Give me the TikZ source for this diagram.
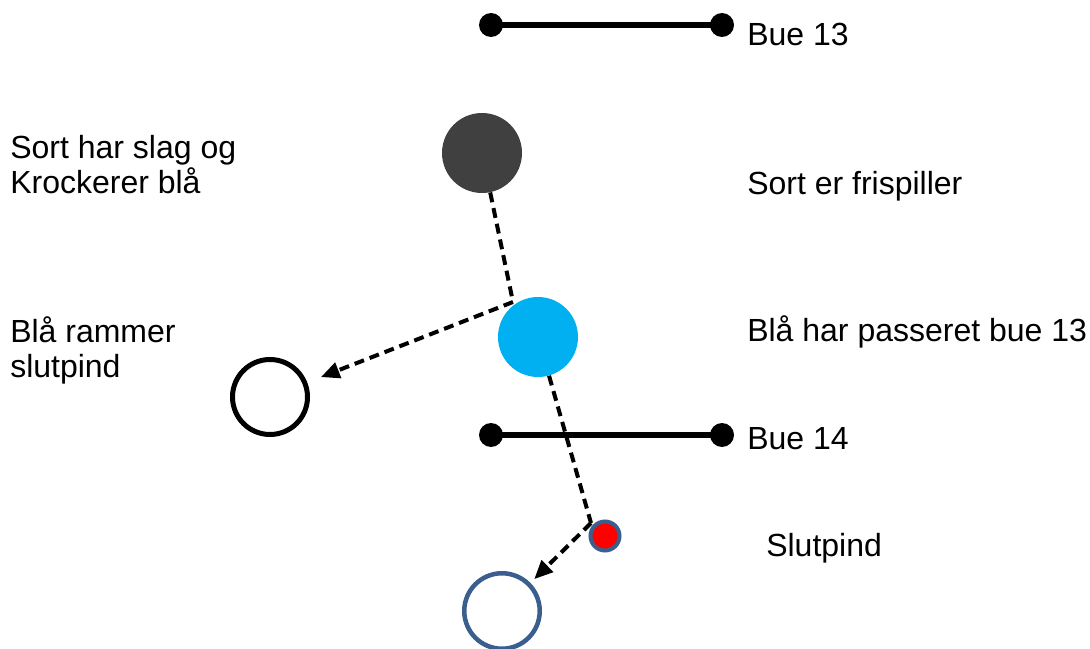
\documentclass[tikz,border=0pt]{standalone}
\usepackage{fontspec}
\setmainfont{Liberation Sans}
\usetikzlibrary{arrows.meta,positioning}
\definecolor{sortkugle}{RGB}{64,64,64}
\definecolor{blaakugle}{RGB}{0,176,240}
\definecolor{pindblaa}{RGB}{58,95,143}
\tikzset{
  bue/.style={line width=4.5pt},
  buedot/.style={circle, fill=black, minimum size=18pt, inner sep=0pt},
  kugle/.style={circle, minimum size=60pt, inner sep=0pt},
  ring/.style={circle, draw, line width=3.75pt, minimum size=56.25pt, inner sep=0pt},
  spor/.style={dash pattern=on 7.5pt off 4.5pt, line width=3pt},
  slag/.style={spor, -{Triangle[length=14pt,width=12pt]}},
  tekst/.style={anchor=base west, inner sep=0pt, align=left}
}

\begin{document}
\begin{tikzpicture}[x=0.75pt, y=-0.75pt, every node/.style={font=\fontsize{24}{26.25}\selectfont}]
  \useasboundingbox (0,0) rectangle (1090,649);

  % buerne
  \node[buedot] (b13a) at (491,25) {};
  \node[buedot] (b13b) at (722,25) {};
  \draw[bue] (b13a.center) -- (b13b.center);
  \node[buedot] (b14a) at (491,435) {};
  \node[buedot] (b14b) at (722,435) {};
  \draw[bue] (b14a.center) -- (b14b.center);

  % kugler og pind
  \node[kugle, fill=sortkugle] (sort) at (482,153) {};
  \node[kugle, fill=blaakugle] (blaa) at (538,337) {};
  \node[ring] (ramt) at (270,397) {};
  \node[ring, draw=pindblaa, line width=3.4pt, minimum size=56.6pt] (slut) at (502,611) {};
  \node[circle, draw=pindblaa, fill=red, line width=3pt, minimum size=21.75pt, inner sep=0pt] (pind) at (605,536) {};

  % spor
  \coordinate (hit1) at (513,302);
  \coordinate (hit2) at (591,523);
  \draw[spor] (sort) -- (hit1);
  \draw[slag, shorten >=11pt] (hit1) -- (ramt);
  \draw[spor] (blaa) -- (hit2);
  \draw[slag, shorten >=4pt] (hit2) -- (slut);

  % tekster
  \node[tekst] (t13) at (747,46) {Bue 13};
  \node[tekst] (t14) at (747,449) {Bue 14};
  \node[tekst] (tsort) at (10,194) {Sort har slag og\\Krockerer blå};
  \node[tekst] (tfri) at (747,195) {Sort er frispiller};
  \node[tekst] (tramt) at (10,378) {Blå rammer\\slutpind};
  \node[tekst] (tpas) at (747,341) {Blå har passeret bue 13};
  \node[tekst] (tslut) at (766,556) {Slutpind};
\end{tikzpicture}
\end{document}
